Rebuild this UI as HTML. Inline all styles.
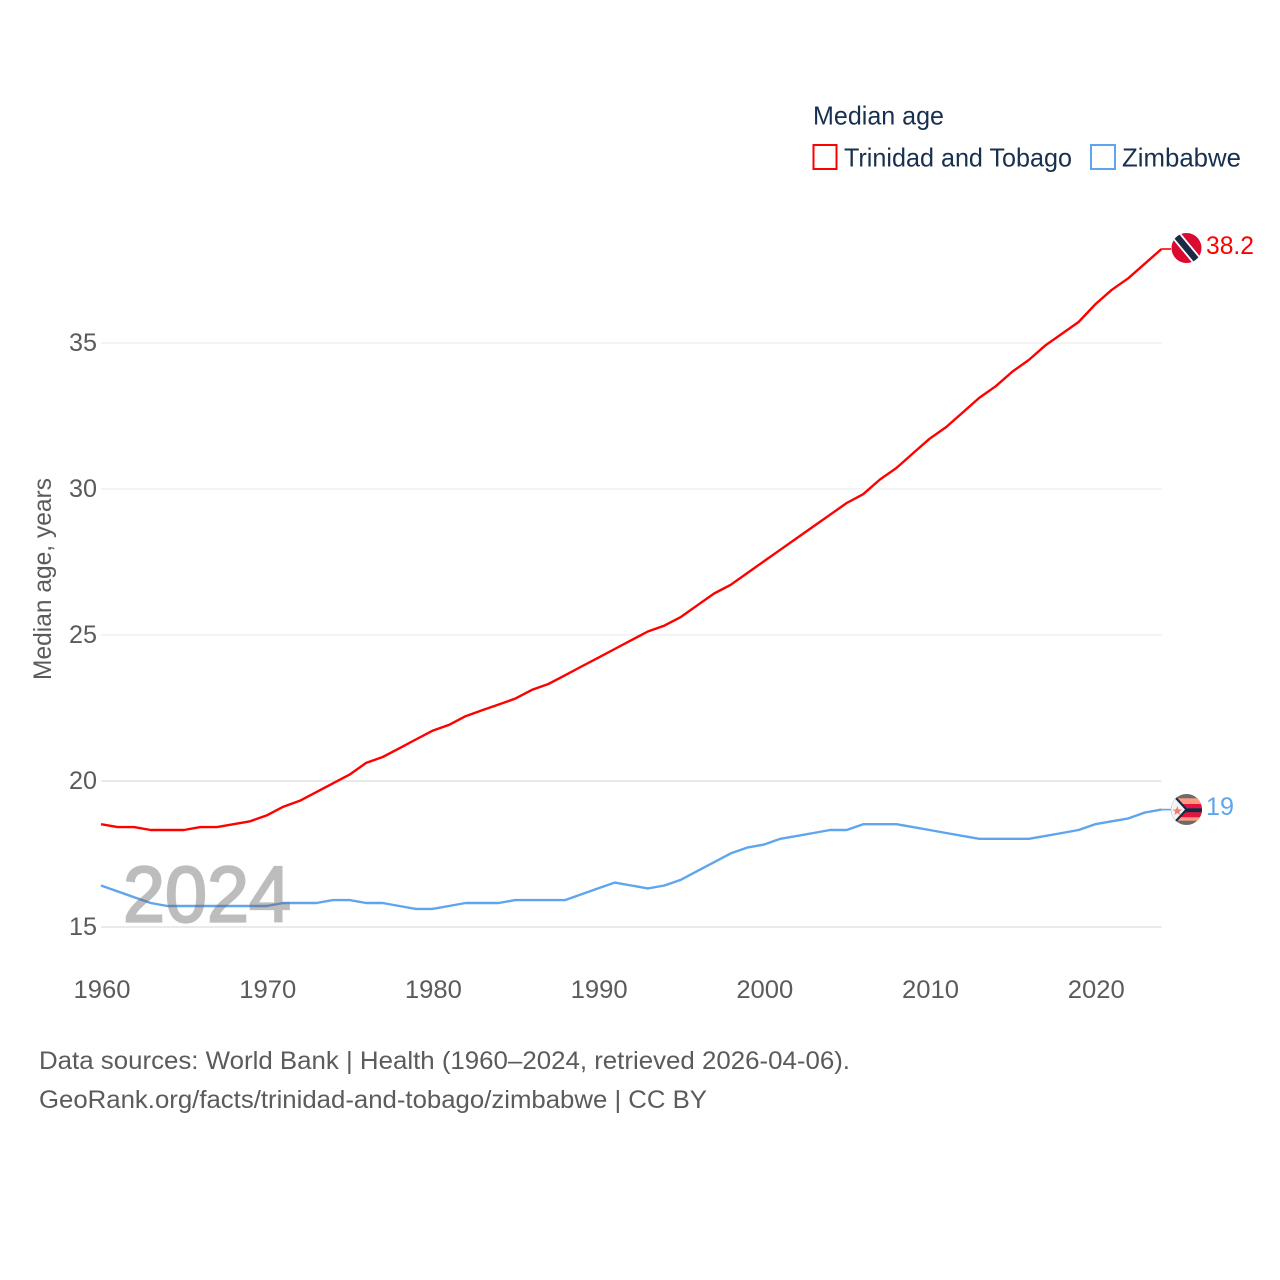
<!DOCTYPE html>
<html lang="en">
<head>
<meta charset="utf-8">
<title>Median age: Trinidad and Tobago vs Zimbabwe</title>
<style>
html,body{margin:0;padding:0;background:#fff;}
svg{display:block;font-family:"Liberation Sans",sans-serif;}
</style>
</head>
<body>
<svg id="chart" xmlns="http://www.w3.org/2000/svg" width="1280" height="1280" viewBox="0 0 1280 1280">
  <defs>
    <clipPath id="clip-tt"><circle id="clip-tt-circle" cx="1186.5" cy="248" r="15"/></clipPath>
    <clipPath id="clip-zw"><circle id="clip-zw-circle" cx="1186.5" cy="809.5" r="15.5"/></clipPath>
  </defs>
  <rect width="1280" height="1280" fill="#fff"/>
  <g id="grid"></g>
  <g id="y-ticks"></g>
  <g id="x-ticks"></g>
  <text transform="translate(51,579) rotate(-90)" text-anchor="middle" font-size="25" fill="#5b5b5b" textLength="202" lengthAdjust="spacingAndGlyphs">Median age, years</text>
  <g id="series"></g>
  <text x="123" y="921.5" font-size="79" fill="#6a6a6a" stroke="#6a6a6a" stroke-width="2.2" opacity="0.44" textLength="168" lengthAdjust="spacingAndGlyphs">2024</text>

  <g id="flag-tt" clip-path="url(#clip-tt)">
    <rect x="1170" y="232" width="34" height="32" fill="#da0a32"/>
    <line x1="1170" y1="228.2" x2="1203" y2="267.8" stroke="#fff" stroke-width="10"/>
    <line x1="1170" y1="228.2" x2="1203" y2="267.8" stroke="#1b2b45" stroke-width="6.4"/>
  </g>
  <g id="flag-zw" clip-path="url(#clip-zw)">
    <rect x="1170" y="793" width="34" height="33" fill="#6b6b6b"/>
    <rect x="1170" y="798.3" width="34" height="5.7" fill="#ff9a80"/>
    <rect x="1170" y="804" width="34" height="4.3" fill="#e8143c"/>
    <rect x="1170" y="808.3" width="34" height="4" fill="#14294a"/>
    <rect x="1170" y="812.3" width="34" height="5" fill="#e8143c"/>
    <rect x="1170" y="817.3" width="34" height="3.4" fill="#ff9a80"/>
    <polygon points="1170,790 1188,809.5 1170,829" fill="#14294a"/>
    <polygon points="1170,793 1185,809.5 1170,826" fill="#f4f4f4"/>
    <polygon points="1177.3,806 1178.6,809.5 1182,809.5 1179.3,811.7 1180.3,815 1177.3,813 1174.3,815 1175.3,811.7 1172.6,809.5 1176,809.5" fill="#f47a6a"/>
  </g>
  <text id="label-tt" x="1206" y="254" font-size="25" fill="#ff0000" textLength="48" lengthAdjust="spacingAndGlyphs">38.2</text>
  <text id="label-zw" x="1206" y="815" font-size="25" fill="#5ea5ee" textLength="28" lengthAdjust="spacingAndGlyphs">19</text>

  <g>
    <text x="813" y="124.5" font-size="26" fill="#18304f" textLength="131" lengthAdjust="spacingAndGlyphs">Median age</text>
    <rect x="813.5" y="145" width="23" height="24" fill="#fff" stroke="#ff0000" stroke-width="2"/>
    <text x="844" y="166.5" font-size="26" fill="#18304f" textLength="228" lengthAdjust="spacingAndGlyphs">Trinidad and Tobago</text>
    <rect x="1091" y="145" width="24" height="24" fill="#fff" stroke="#5ea5ee" stroke-width="2"/>
    <text x="1122" y="166.5" font-size="26" fill="#18304f" textLength="119" lengthAdjust="spacingAndGlyphs">Zimbabwe</text>
  </g>

  <text x="39" y="1069" font-size="25" fill="#5b5b5b" textLength="811" lengthAdjust="spacingAndGlyphs">Data sources: World Bank | Health (1960–2024, retrieved 2026-04-06).</text>
  <text x="39" y="1108" font-size="25" fill="#5b5b5b" textLength="668" lengthAdjust="spacingAndGlyphs">GeoRank.org/facts/trinidad-and-tobago/zimbabwe | CC BY</text>
</svg>
<script>
const years = [1960,1961,1962,1963,1964,1965,1966,1967,1968,1969,1970,1971,1972,1973,1974,1975,1976,1977,1978,1979,1980,1981,1982,1983,1984,1985,1986,1987,1988,1989,1990,1991,1992,1993,1994,1995,1996,1997,1998,1999,2000,2001,2002,2003,2004,2005,2006,2007,2008,2009,2010,2011,2012,2013,2014,2015,2016,2017,2018,2019,2020,2021,2022,2023,2024];
const trinidadValues = [18.5,18.4,18.4,18.3,18.3,18.3,18.4,18.4,18.5,18.6,18.8,19.1,19.3,19.6,19.9,20.2,20.6,20.8,21.1,21.4,21.7,21.9,22.2,22.4,22.6,22.8,23.1,23.3,23.6,23.9,24.2,24.5,24.8,25.1,25.3,25.6,26.0,26.4,26.7,27.1,27.5,27.9,28.3,28.7,29.1,29.5,29.8,30.3,30.7,31.2,31.7,32.1,32.6,33.1,33.5,34.0,34.4,34.9,35.3,35.7,36.3,36.8,37.2,37.7,38.2];
const zimbabweValues = [16.4,16.2,16.0,15.8,15.7,15.7,15.7,15.7,15.7,15.7,15.7,15.8,15.8,15.8,15.9,15.9,15.8,15.8,15.7,15.6,15.6,15.7,15.8,15.8,15.8,15.9,15.9,15.9,15.9,16.1,16.3,16.5,16.4,16.3,16.4,16.6,16.9,17.2,17.5,17.7,17.8,18.0,18.1,18.2,18.3,18.3,18.5,18.5,18.5,18.4,18.3,18.2,18.1,18.0,18.0,18.0,18.0,18.1,18.2,18.3,18.5,18.6,18.7,18.9,19.0];
const yTickValues = [15,20,25,30,35];
const xTickValues = [1960,1970,1980,1990,2000,2010,2020];

const NS = 'http://www.w3.org/2000/svg';
const plotLeft = 101, plotRight = 1161.5, yBase = 927, pxPerUnit = 29.2, seriesShift = -0.6;
function xScale(year) {
  return plotLeft + (year - years[0]) * (plotRight - plotLeft) / (years[years.length - 1] - years[0]);
}
function yScale(value) {
  return yBase - (value - yTickValues[0]) * pxPerUnit;
}
function make(tag, attrs, parent) {
  const el = document.createElementNS(NS, tag);
  for (const k in attrs) el.setAttribute(k, attrs[k]);
  parent.appendChild(el);
  return el;
}

const grid = document.getElementById('grid');
const yTicks = document.getElementById('y-ticks');
const xTicks = document.getElementById('x-ticks');
const seriesGroup = document.getElementById('series');

yTickValues.forEach(function (v) {
  const line = make('line', {x1: plotLeft, x2: plotRight, y1: yScale(v), y2: yScale(v), stroke: v <= 20 ? '#e3e3e3' : '#efefef', 'stroke-width': 1.5}, grid);
  
  
  const t = make('text', {x: 97, y: yScale(v) + 8, 'text-anchor': 'end', 'font-size': 25, fill: '#5b5b5b', textLength: 28, lengthAdjust: 'spacingAndGlyphs'}, yTicks);
  
  
  t.textContent = String(v);
});

xTickValues.forEach(function (v) {
  const t = make('text', {x: xScale(v) + 1, y: 998, 'text-anchor': 'middle', 'font-size': 25, fill: '#5b5b5b', textLength: 57, lengthAdjust: 'spacingAndGlyphs'}, xTicks);
  
  
  t.textContent = String(v);
});

function drawSeries(values, color, name) {
  const pts = values.map(function (v, i) { return xScale(years[i]).toFixed(1) + ',' + (yScale(v) + seriesShift).toFixed(1); });
  const lastY = (yScale(values[values.length - 1]) + seriesShift).toFixed(1);
  const path = make('polyline', {points: pts.join(' '), fill: 'none', stroke: color, 'stroke-width': 2.4, 'stroke-linejoin': 'round'}, seriesGroup);
  
  
  const conn = make('line', {x1: plotRight, x2: 1171, y1: lastY, y2: lastY, stroke: color, 'stroke-width': 1.6}, seriesGroup);
  
  
}
drawSeries(trinidadValues, '#ff0000', 'trinidad-and-tobago');
drawSeries(zimbabweValues, '#5ea5ee', 'zimbabwe');
</script>
</body>
</html>
